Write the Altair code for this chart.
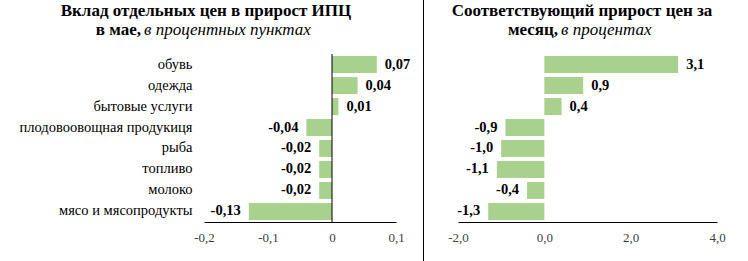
import altair as alt
import pandas as pd

categories = ["обувь", "одежда", "бытовые услуги", "плодовоовощная продукиця",
              "рыба", "топливо", "молоко", "мясо и мясопродукты"]
contrib = [0.07, 0.04, 0.01, -0.04, -0.02, -0.02, -0.02, -0.13]
growth = [3.1, 0.9, 0.4, -0.9, -1.0, -1.1, -0.4, -1.3]
left_ticks = [-0.2, -0.1, 0, 0.1]
right_ticks = [-2, 0, 2, 4]

FONT = "Liberation Serif"
GREEN = "#A9D18E"

df = pd.DataFrame({
    "cat": categories,
    "contrib": contrib,
    "growth": growth,
    "cl": [f"{v:.2f}".replace(".", ",") for v in contrib],
    "gl": [f"{v:.1f}".replace(".", ",") for v in growth],
})

yenc = alt.Y("cat:N", sort=categories,
             scale=alt.Scale(range=[54, 222], paddingInner=0.19, paddingOuter=0.1),
             axis=alt.Axis(title=None, orient="left", offset=-204, domain=False, ticks=False,
                           labelPadding=12, labelFont=FONT, labelFontSize=14.5,
                           labelColor="black", labelLimit=400))

def xaxis(fmt):
    return dict(orient="bottom", offset=-39, ticks=False, grid=False, title=None,
                domainColor="black", domainWidth=1, labelFlush=False, labelOverlap=False,
                labelFont=FONT, labelFontSize=13, labelColor="#404040", labelPadding=9,
                labelExpr="replace(replace(format(datum.value,'" + fmt + "'),'.',','),'\u2212','-')")

xl = alt.X("contrib:Q",
           scale=alt.Scale(domain=[-0.2, 0.1], range=[204, 396], nice=False, zero=False),
           axis=alt.Axis(values=left_ticks, **xaxis(".1~f")))
xr = alt.X("growth:Q",
           scale=alt.Scale(domain=[-2, 4], range=[458, 717], nice=False, zero=False),
           axis=alt.Axis(values=right_ticks, **xaxis(".1f")))

base = alt.Chart(df)

left = alt.layer(
    base.mark_bar(color=GREEN).encode(x=xl, y=yenc),
    base.transform_calculate(contrib="0").transform_filter("datum.cat == 'обувь'")
        .mark_rule(color="black", strokeWidth=1)
        .encode(x=xl, y=alt.value(54), y2=alt.value(222)),
    base.transform_filter("datum.contrib >= 0").mark_text(
        align="left", dx=8, font=FONT, fontSize=14.5, fontWeight="bold", color="black")
        .encode(x=xl, y=yenc, text="cl:N"),
    base.transform_filter("datum.contrib < 0").mark_text(
        align="right", dx=-8, font=FONT, fontSize=14.5, fontWeight="bold", color="black")
        .encode(x=xl, y=yenc, text="cl:N"),
)

right = alt.layer(
    base.mark_bar(color=GREEN).encode(x=xr, y=yenc),
    base.transform_filter("datum.growth >= 0").mark_text(
        align="left", dx=8, font=FONT, fontSize=14.5, fontWeight="bold", color="black")
        .encode(x=xr, y=yenc, text="gl:N"),
    base.transform_filter("datum.growth < 0").mark_text(
        align="right", dx=-8, font=FONT, fontSize=14.5, fontWeight="bold", color="black")
        .encode(x=xr, y=yenc, text="gl:N"),
)

one = pd.DataFrame({"a": [0]})

def txt(text, x, y, align, weight="bold", style="normal"):
    return alt.Chart(one).mark_text(
        text=text, align=align, baseline="alphabetic", font=FONT, fontSize=17,
        fontWeight=weight, fontStyle=style, color="black"
    ).encode(x=alt.value(x), y=alt.value(y))

titles = alt.layer(
    txt("Вклад отдельных цен в прирост ИПЦ", 206, 16, "center"),
    txt("в мае,", 141, 35, "right"),
    txt("в процентных пунктах", 144, 35, "left", weight="normal", style="italic"),
    txt("Соответствующий прирост цен за", 582, 16, "center"),
    txt("месяц,", 558, 35, "right"),
    txt("в процентах", 561, 35, "left", weight="normal", style="italic"),
    alt.Chart(one).mark_rule(color="black", strokeWidth=1)
        .encode(x=alt.value(423.5), y=alt.value(0), y2=alt.value(261)),
)

chart = alt.layer(left, right, titles).resolve_scale(x="independent").resolve_axis(x="independent").properties(
    width=748, height=261, autosize=alt.AutoSizeParams(type="none"), padding=0,
    background="white"
).configure_view(stroke=None)

chart.save("out.html", embed_options={"renderer": "svg", "actions": False})
